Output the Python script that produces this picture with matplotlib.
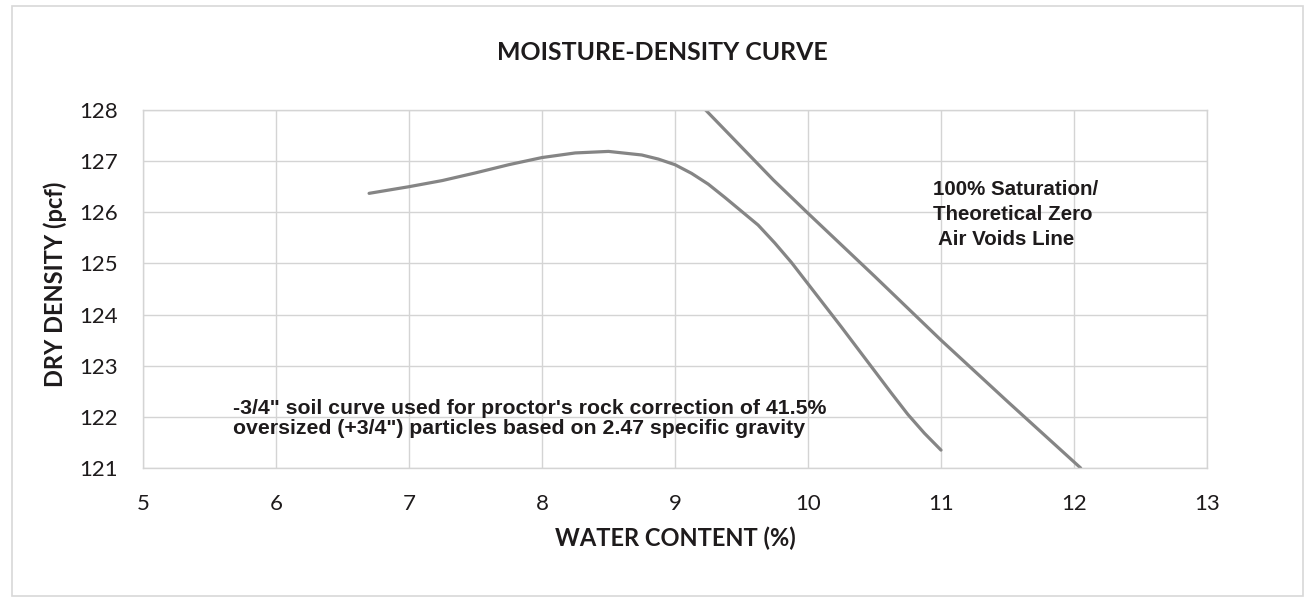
"""Moisture-density (Proctor) curve with the zero air voids line."""
import matplotlib
matplotlib.use('Agg')
from matplotlib import pyplot as plt
from matplotlib.patches import Rectangle

# proctor curve (-3/4" soil, rock corrected)
water_content = [6.7, 7.0, 7.25, 7.5, 7.75, 8.0, 8.25, 8.5, 8.75, 8.875,
                 9.0, 9.125, 9.25, 9.375, 9.5, 9.625, 9.75, 9.875, 10.0,
                 10.125, 10.25, 10.375, 10.5, 10.625, 10.75, 10.875, 11.0]
dry_density = [126.37, 126.50, 126.62, 126.77, 126.93, 127.07, 127.16,
               127.19, 127.12, 127.04, 126.93, 126.76, 126.55, 126.29,
               126.02, 125.75, 125.40, 125.02, 124.6, 124.18, 123.76,
               123.33, 122.9, 122.47, 122.05, 121.68, 121.35]

# 100% saturation / zero air voids line
zav_water = [9.23, 9.74, 10.0, 10.5, 11.0, 11.5, 12.05]
zav_density = [128.0, 126.63, 125.98, 124.75, 123.5, 122.3, 121.0]

x_ticks = [5, 6, 7, 8, 9, 10, 11, 12, 13]
y_ticks = [121, 122, 123, 124, 125, 126, 127, 128]

title = 'MOISTURE-DENSITY CURVE'
x_label = 'WATER CONTENT (%)'
y_label = 'DRY DENSITY (pcf)'
zav_note = '100% Saturation/\nTheoretical Zero\n Air Voids Line'
soil_note = ('-3/4" soil curve used for proctor\'s rock correction of 41.5%\n'
             'oversized (+3/4") particles based on 2.47 specific gravity')

TEXT = '#1e1b1c'
GRID = '#d4d4d4'
LINE = '#858585'

fig = plt.figure(figsize=(13.07, 6.0), dpi=100)
fig.patches.append(Rectangle((0.009, 0.007), 0.988, 0.983,
                             transform=fig.transFigure, fill=False,
                             ec='#d8d8d8', lw=1.2))
ax = fig.add_axes([0.1094, 0.22, 0.8141, 0.5967])

ax.plot(water_content, dry_density, color=LINE, lw=2.3,
        solid_capstyle='round', solid_joinstyle='round')
ax.plot(zav_water, zav_density, color=LINE, lw=2.3, solid_capstyle='round')

ax.set_xlim(5, 13)
ax.set_ylim(121, 128)
ax.set_xticks(x_ticks)
ax.set_yticks(y_ticks)
ax.grid(True, color=GRID, lw=1.0)
ax.set_axisbelow(True)
ax.tick_params(length=0, labelsize=16, labelcolor=TEXT)
ax.tick_params(axis='x', pad=19)
ax.tick_params(axis='y', pad=18)
for lbl in ax.get_xticklabels() + ax.get_yticklabels():
    lbl.set_family('Lato')
for spine in ax.spines.values():
    spine.set_color(GRID)
    spine.set_linewidth(1.0)

ax.set_xlabel(x_label, family='Lato', fontweight='bold', fontsize=17,
              color=TEXT, labelpad=9)
ax.set_ylabel(y_label, family='Lato', fontweight='bold', fontsize=17,
              color=TEXT, va='center')
ax.yaxis.set_label_coords(-0.0827, 0.514)
fig.text(0.5065, 0.913, title, family='Lato', fontweight='bold',
         fontsize=17.9, color=TEXT, ha='center', va='center')

ax.text(10.94, 126.64, zav_note, family='Liberation Sans',
        fontweight='bold', fontsize=14.8, color=TEXT, ha='left', va='top',
        linespacing=1.4)
ax.text(5.68, 121.97, soil_note, family='Liberation Sans',
        fontweight='bold', fontsize=15.3, color=TEXT, ha='left',
        va='center', linespacing=1.05)

fig.savefig('out.png', dpi=100, facecolor='white')
plt.close(fig)
